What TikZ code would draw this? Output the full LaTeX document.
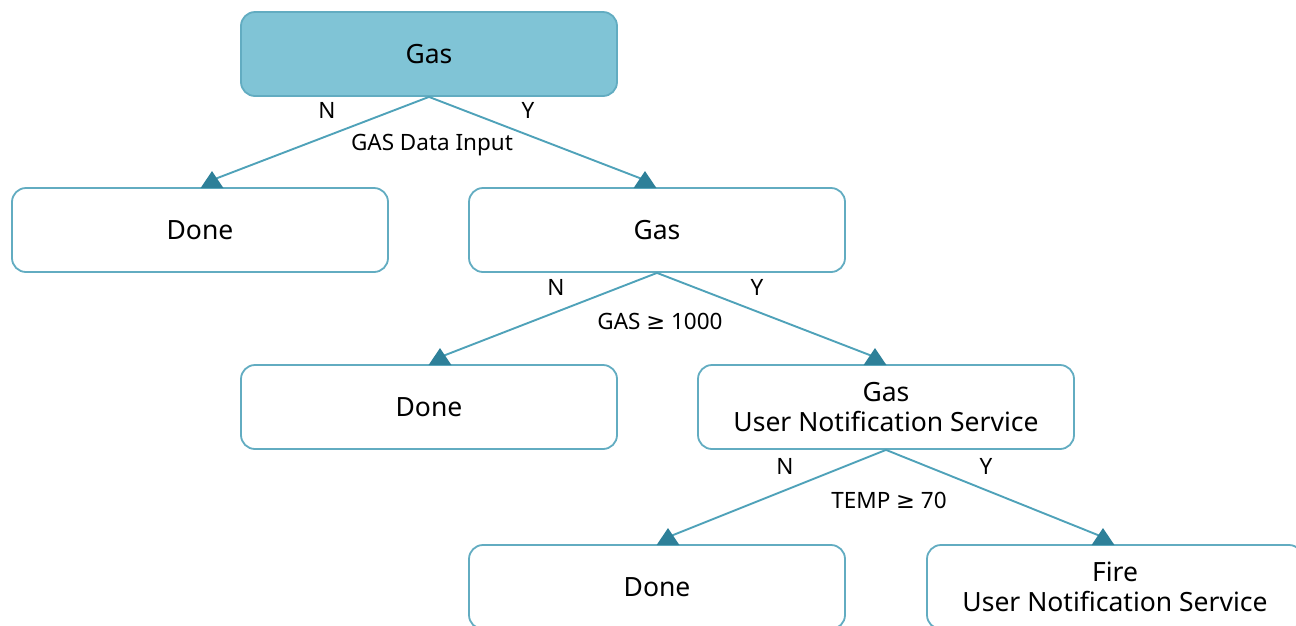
\documentclass[tikz,border=0pt]{standalone}
\usepackage{fontspec}
\setmainfont{Noto Sans}
\newfontfamily\symfont{DejaVu Sans}
\definecolor{boxline}{HTML}{62ACC1}
\definecolor{boxfill}{HTML}{80C4D6}
\definecolor{edge}{HTML}{4FA2B9}
\definecolor{tip}{HTML}{2E8099}
\newcommand{\gte}{{\symfont ≥}}
% upright triangle marker whose base sits on a box's top edge
\newcommand{\hitmark}[1]{\fill[tip] ([xshift=-11.5pt,yshift=-1pt]#1) -- ([xshift=11.5pt,yshift=-1pt]#1) -- ([yshift=16pt]#1) -- cycle;}
\begin{document}
\begin{tikzpicture}[x=1pt,y=-1pt,
  box/.style={draw=boxline,line width=1.8pt,rounded corners=14pt,
    minimum width=376pt,minimum height=84pt,align=center,
    font=\fontsize{26.5}{30}\selectfont,text=black,inner sep=0pt},
  rootbox/.style={box,fill=boxfill},
  link/.style={draw=edge,line width=1.9pt},
  lbl/.style={font=\fontsize{22.5}{26}\selectfont,text=black,inner sep=0pt}]
\useasboundingbox (0,0) rectangle (1296,625);
% decision nodes
\node[rootbox] (g1) at (429,54) {Gas};
\node[box] (d1) at (200,230) {Done};
\node[box] (g2) at (657,230) {Gas};
\node[box] (d2) at (429,407) {Done};
\node[box] (g3) at (886,407) {Gas\\User Notification Service};
\node[box] (d3) at (657,587) {Done};
\node[box] (f) at (1115,587) {Fire\\User Notification Service};
% entry points on the top edges
\coordinate (t1) at ([xshift=12pt]d1.north);
\coordinate (t2) at ([xshift=-12pt]g2.north);
\coordinate (t3) at ([xshift=11pt]d2.north);
\coordinate (t4) at ([xshift=-11pt]g3.north);
\coordinate (t5) at ([xshift=11pt]d3.north);
\coordinate (t6) at ([xshift=-12pt]f.north);
% branches
\draw[link] (g1.south) -- ([yshift=7pt]t1);
\draw[link] (g1.south) -- ([yshift=7pt]t2);
\draw[link] (g2.south) -- ([yshift=7pt]t3);
\draw[link] (g2.south) -- ([yshift=7pt]t4);
\draw[link] (g3.south) -- ([yshift=7pt]t5);
\draw[link] (g3.south) -- ([yshift=7pt]t6);
\hitmark{t1}\hitmark{t2}\hitmark{t3}\hitmark{t4}\hitmark{t5}\hitmark{t6}
% branch labels
\node[lbl] (n1) at (327,110) {N};
\node[lbl] (y1) at (528,110) {Y};
\node[lbl] (c1) at (432,145) {GAS Data Input};
\node[lbl] (n2) at (556,287) {N};
\node[lbl] (y2) at (757,287) {Y};
\node[lbl] (c2) at (660,321) {GAS \gte\ 1000};
\node[lbl] (n3) at (785,466) {N};
\node[lbl] (y3) at (986,466) {Y};
\node[lbl] (c3) at (889,500) {TEMP \gte\ 70};
\end{tikzpicture}
\end{document}
